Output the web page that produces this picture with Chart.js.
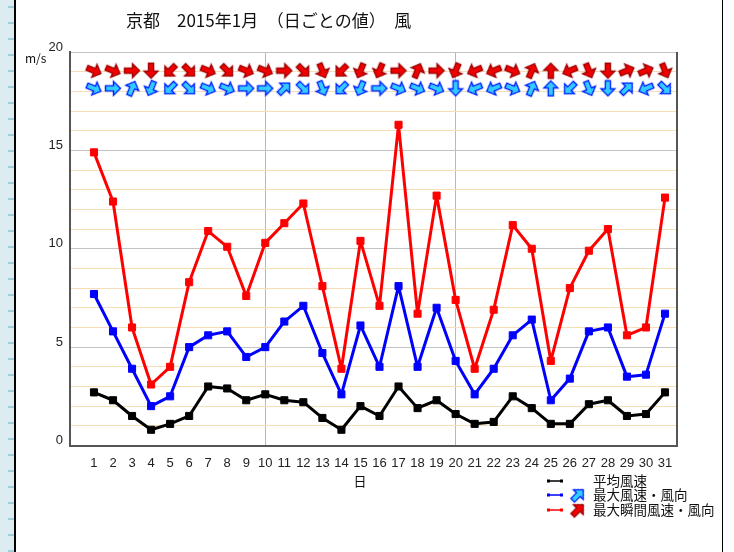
<!DOCTYPE html>
<html>
<head>
<meta charset="utf-8">
<script src="https://cdn.jsdelivr.net/npm/chart.js@4.4.1/dist/chart.umd.min.js"></script>
<style>
  html, body { margin: 0; padding: 0; background: #fff; }
  #wrap { position: relative; width: 734px; height: 552px; overflow: hidden; }
  #strip { position: absolute; left: 0; top: 0; width: 14px; height: 552px; background: #dcedf1; }
  #ticks { position: absolute; left: 8px; top: 0; width: 6px; height: 552px;
    background: repeating-linear-gradient(to bottom, transparent 0 6px, #9ccfd8 6px 8px, transparent 8px 16px); }
  #lline { position: absolute; left: 14px; top: 0; width: 2px; height: 552px; background: #000; }
  #rline { position: absolute; left: 722px; top: 0; width: 1px; height: 552px; background: #000; }
  canvas { position: absolute; left: 0; top: 0; }
</style>
</head>
<body>
<div id="wrap">
  <div id="strip"></div><div id="ticks"></div><div id="lline"></div><div id="rline"></div>
  <canvas id="chart" width="734" height="552"></canvas>
</div>
<script>
// 京都 2015年1月 日ごとの値
var title = "京都　2015年1月　（日ごとの値）　風";
var days = [];
for (var i = 1; i <= 31; i++) days.push(i);

var avgSpeed  = [2.7, 2.3, 1.5, 0.8, 1.1, 1.5, 3.0, 2.9, 2.3, 2.6, 2.3, 2.2, 1.4, 0.8, 2.0, 1.5, 3.0, 1.9, 2.3, 1.6, 1.1, 1.2, 2.5, 1.9, 1.1, 1.1, 2.1, 2.3, 1.5, 1.6, 2.7];
var maxSpeed  = [7.7, 5.8, 3.9, 2.0, 2.5, 5.0, 5.6, 5.8, 4.5, 5.0, 6.3, 7.1, 4.7, 2.6, 6.1, 4.0, 8.1, 4.0, 7.0, 4.3, 2.6, 3.9, 5.6, 6.4, 2.3, 3.4, 5.8, 6.0, 3.5, 3.6, 6.7];
var gustSpeed = [14.9, 12.4, 6.0, 3.1, 4.0, 8.3, 10.9, 10.1, 7.6, 10.3, 11.3, 12.3, 8.1, 3.9, 10.4, 7.1, 16.3, 6.7, 12.7, 7.4, 3.9, 6.9, 11.2, 10.0, 4.3, 8.0, 9.9, 11.0, 5.6, 6.0, 12.6];

// 風向 (吹いてくる方位)
var dirs16 = ['北','北北東','北東','東北東','東','東南東','南東','南南東','南','南南西','南西','西南西','西','西北西','北西','北北西'];
var maxDir  = ['西北西','西','南南西','北北東','北東','北西','西北西','西北西','西','西','南西','北西','北北西','北東','北北東','西','西北西','西北西','西北西','北','東北東','東北東','西北西','南南西','南','北東','北北西','北','南西','東北東','北西'];
var gustDir = ['西北西','西北西','西','北','北東','北西','西北西','北西','西北西','西北西','西','北西','北北西','北東','北北東','北北東','西','南南西','西','北北東','東北東','東北東','西北西','南南西','南','東北東','北北西','北','西南西','西南西','北北西'];

var yTicks = [0, 5, 10, 15, 20];
var legendLabels = ['平均風速', '最大風速・風向', '最大瞬間風速・風向'];

// 矢印の高さ (m/s 目盛上)
var gustArrowLevel = 19.05;
var maxArrowLevel = 18.15;

function makeArrow(fill, stroke) {
  var c = document.createElement('canvas');
  c.width = 18; c.height = 18;
  var g = c.getContext('2d');
  g.beginPath();
  g.moveTo(9, 1.5);
  g.lineTo(16, 8.5);
  g.lineTo(11.6, 8.5);
  g.lineTo(11.6, 16.5);
  g.lineTo(6.4, 16.5);
  g.lineTo(6.4, 8.5);
  g.lineTo(2, 8.5);
  g.closePath();
  g.fillStyle = fill;
  g.fill();
  g.lineWidth = 1.3;
  g.strokeStyle = stroke;
  g.stroke();
  return c;
}
var redArrow = makeArrow('#f00000', '#a00000');
var blueArrow = makeArrow('#33ccff', '#0022ff');

function arrowAngle(name) {
  return (dirs16.indexOf(name) * 22.5 + 180) % 360;
}

var decor = {
  id: 'decor',
  afterDraw: function (chart) {
    var ctx = chart.ctx, a = chart.chartArea;
    ctx.save();
    ctx.strokeStyle = '#555';
    ctx.lineWidth = 2;
    ctx.beginPath();
    ctx.moveTo(a.right, a.top);
    ctx.lineTo(a.right, a.bottom + 1);
    ctx.stroke();

    ctx.fillStyle = '#111';
    ctx.textBaseline = 'middle';
    ctx.textAlign = 'left';
    ctx.font = '17px "Noto Sans CJK JP"';
    ctx.fillText(title, 126, 21);

    ctx.font = '12px "Noto Sans CJK JP"';
    ctx.fillText('m/s', 25, 58);
    ctx.font = '13px "Noto Sans CJK JP"';
    ctx.textAlign = 'center';
    ctx.fillText('日', 360, 481);

    // 凡例
    var colors = ['#000', '#00f', '#f00'];
    var arrows = [null, blueArrow, redArrow];
    var rows = [481, 495, 510];
    ctx.textAlign = 'left';
    ctx.font = '13.5px "Noto Sans CJK JP"';
    for (var k = 0; k < 3; k++) {
      var y = rows[k];
      ctx.strokeStyle = colors[k];
      ctx.fillStyle = colors[k];
      ctx.lineWidth = 1.5;
      ctx.beginPath(); ctx.moveTo(549, y); ctx.lineTo(561, y); ctx.stroke();
      ctx.fillRect(547, y - 1.5, 3, 3);
      ctx.fillRect(560, y - 1.5, 3, 3);
      if (arrows[k]) {
        ctx.save();
        ctx.translate(578, y);
        ctx.rotate(Math.PI / 4);
        ctx.drawImage(arrows[k], -9, -9);
        ctx.restore();
      }
      ctx.fillStyle = '#111';
      ctx.fillText(legendLabels[k], 593, y);
    }
    ctx.restore();
  }
};

function lineSet(label, values, color) {
  return {
    label: label,
    data: days.map(function (d, i) { return { x: d, y: values[i] }; }),
    borderColor: color,
    backgroundColor: color,
    borderWidth: 3,
    borderJoinStyle: 'round',
    pointStyle: 'rect',
    pointRadius: 5,
    pointBorderWidth: 1,
    tension: 0
  };
}

function arrowSet(label, dirList, level, img) {
  return {
    label: label,
    data: days.map(function (d) { return { x: d, y: level }; }),
    showLine: false,
    pointStyle: img,
    pointRadius: 8,
    pointRotation: function (c) { return arrowAngle(dirList[c.dataIndex]); }
  };
}

var ctx = document.getElementById('chart').getContext('2d');
var chart = new Chart(ctx, {
  type: 'line',
  data: {
    datasets: [
      arrowSet('gustDir', gustDir, gustArrowLevel, redArrow),
      arrowSet('maxDir', maxDir, maxArrowLevel, blueArrow),
      lineSet(legendLabels[2], gustSpeed, '#ff0000'),
      lineSet(legendLabels[1], maxSpeed, '#0000ff'),
      lineSet(legendLabels[0], avgSpeed, '#000000')
    ]
  },
  options: {
    responsive: false,
    animation: false,
    layout: { padding: { top: 52, right: 57, left: 0, bottom: 0 } },
    plugins: { legend: { display: false }, tooltip: { enabled: false } },
    scales: {
      x: {
        type: 'linear',
        min: -0.26,
        max: 31.63,
        afterFit: function (s) { s.height = 106.5; },
        afterBuildTicks: function (s) {
          s.ticks = days.map(function (d) { return { value: d }; });
        },
        ticks: {
          autoSkip: false,
          maxRotation: 0,
          padding: 10,
          color: '#222',
          font: { family: 'Liberation Sans', size: 13 },
          callback: function (v) { return String(v); }
        },
        grid: {
          drawTicks: false,
          lineWidth: 1,
          color: function (c) { return (c.tick && (c.tick.value === 10 || c.tick.value === 20)) ? '#b8b8b8' : 'rgba(0,0,0,0)'; }
        },
        border: { display: true, color: '#555', width: 2 }
      },
      y: {
        min: 0,
        max: 20,
        afterFit: function (s) { s.width = 70; },
        ticks: {
          stepSize: 1,
          autoSkip: false,
          padding: 7,
          labelOffset: -5,
          color: '#222',
          font: { family: 'Liberation Sans', size: 13 },
          callback: function (v) { return yTicks.indexOf(v) >= 0 ? String(v) : ''; }
        },
        grid: {
          drawTicks: false,
          lineWidth: 1,
          color: function (c) { return c.tick.value % 5 === 0 ? '#c4c4c4' : '#f6dfb8'; }
        },
        border: { display: true, color: '#555', width: 2 }
      }
    }
  },
  plugins: [decor]
});
</script>
</body>
</html>
